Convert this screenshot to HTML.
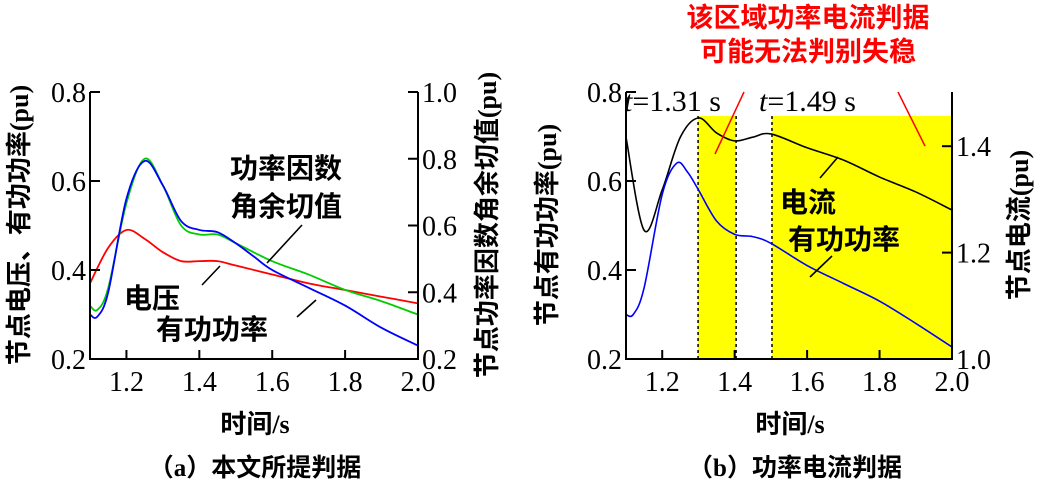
<!DOCTYPE html>
<html><head><meta charset="utf-8"><style>
body{margin:0;background:#fff}
svg text{font-family:"Liberation Serif","Noto Sans CJK SC",serif;fill:#000}
</style></head><body>
<svg id="svg" width="1043" height="486" viewBox="0 0 1043 486" xmlns="http://www.w3.org/2000/svg"></svg>
<script>
// Panel (a) data
const timeA = [1.1,1.12,1.15,1.2,1.25,1.3,1.35,1.4,1.45,1.5,1.55,1.6,1.7,1.8,1.9,2.0];
const powerA = [0.30,0.295,0.35,0.56,0.645,0.59,0.51,0.49,0.485,0.46,0.43,0.40,0.36,0.32,0.27,0.23];
const timeV = [1.1,1.15,1.2,1.25,1.3,1.35,1.4,1.45,1.5,1.6,1.7,1.8,1.9,2.0];
const voltageA = [0.37,0.45,0.49,0.47,0.44,0.42,0.42,0.42,0.41,0.39,0.37,0.355,0.34,0.325];
const timeG = [1.1,1.12,1.15,1.2,1.25,1.3,1.35,1.4,1.45,1.5,1.6,1.7,1.8,1.9,2.0];
const cotA = [0.36,0.347,0.413,0.667,0.80,0.72,0.60,0.573,0.573,0.547,0.493,0.453,0.407,0.373,0.333];
// Panel (b) data
const timeB = [1.1,1.12,1.15,1.2,1.24,1.27,1.3,1.35,1.4,1.45,1.5,1.6,1.7,1.8,1.9,2.0];
const powerB = [0.30,0.30,0.36,0.57,0.64,0.62,0.58,0.51,0.48,0.475,0.46,0.41,0.37,0.33,0.28,0.227];
const timeI = [1.1,1.15,1.2,1.25,1.3,1.35,1.4,1.45,1.5,1.6,1.7,1.8,1.9,2.0];
const currentB = [1.417,1.242,1.318,1.417,1.453,1.425,1.41,1.417,1.423,1.397,1.374,1.342,1.314,1.28];
const xTicks = ["1.2","1.4","1.6","1.8","2.0"];
const xTickVals = [1.2,1.4,1.6,1.8,2.0];
const yLeftTicks = [0.2,0.4,0.6,0.8];
const yRightATicks = [0.2,0.4,0.6,0.8,1.0];
const yRightBTicks = [1.0,1.2,1.4];
const bands = [[1.299,1.404],[1.503,2.0]];

const svg=document.getElementById('svg');
const NS='http://www.w3.org/2000/svg';
function mk(tag,attrs,parent){const e=document.createElementNS(NS,tag);for(const k in attrs)e.setAttribute(k,attrs[k]);(parent||svg).appendChild(e);return e;}
function lin(d0,d1,r0,r1){return v=>r0+(v-d0)/(d1-d0)*(r1-r0);}
function smooth(xs,ys,fx,fy){const p=xs.map((x,i)=>[fx(x),fy(ys[i])]);let d='M'+p[0][0]+','+p[0][1];
 for(let i=0;i<p.length-1;i++){const p0=p[i-1]||p[i],p1=p[i],p2=p[i+1],p3=p[i+2]||p2;
 d+=` C${p1[0]+(p2[0]-p0[0])/6},${p1[1]+(p2[1]-p0[1])/6} ${p2[0]-(p3[0]-p1[0])/6},${p2[1]-(p3[1]-p1[1])/6} ${p2[0]},${p2[1]}`;}return d;}

// ---- Panel A ----
const xA=lin(1.1,2.0,90,418), yA=lin(0.2,0.8,359,92), yA2=lin(0.2,1.0,359,92);
const gA=mk('g',{});


const pr=mk('path',{d:smooth(timeV,voltageA,xA,yA),fill:'none',stroke:'#f00','stroke-width':1.8},gA);

const pg=mk('path',{d:smooth(timeG,cotA,xA,yA2),fill:'none',stroke:'#0c0','stroke-width':1.8},gA);

const pb=mk('path',{d:smooth(timeA,powerA,xA,yA),fill:'none',stroke:'#00f','stroke-width':1.8},gA);


// ---- Panel B ----
const xB=lin(1.1,2.0,626,952), yB=lin(0.2,0.8,359,92), yB2=lin(1.0,1.5,359,93);
const gB=mk('g',{});


bands.forEach(b=>{const r=mk('rect',{x:xB(b[0]),y:116,width:xB(b[1])-xB(b[0]),height:359-116,fill:'#ff0'},gB);
 });
[bands[0][0],bands[0][1],bands[1][0]].forEach(t=>{const l=mk('line',{x1:xB(t),x2:xB(t),y1:116,y2:359,stroke:'#000','stroke-width':1.5,'stroke-dasharray':'3,3'},gB);
 });
const pk=mk('path',{d:smooth(timeI,currentB,xB,yB2),fill:'none',stroke:'#000','stroke-width':1.6},gB);

const pb2=mk('path',{d:smooth(timeB,powerB,xB,yB),fill:'none',stroke:'#00f','stroke-width':1.6},gB);


// ---- Axes ----
function axes(x0,x1,xs,yL,yLt,yR,yRt,g){
 mk('path',{d:`M${x0},92 V359 H${x1} V92`,fill:'none',stroke:'#000','stroke-width':2},g);
 xTickVals.forEach((v,i)=>{const x=xs(v);mk('line',{x1:x,x2:x,y1:359,y2:350,stroke:'#000','stroke-width':2},g);
  const t=mk('text',{x:x,y:391,'font-size':28,'text-anchor':'middle'},g);t.textContent=xTicks[i];
  });
 yLt.forEach(v=>{const y=yL(v);mk('line',{x1:x0,x2:x0+10,y1:y,y2:y,stroke:'#000','stroke-width':2},g);
  const t=mk('text',{x:x0-4,y:y+10,'font-size':28,'text-anchor':'end'},g);t.textContent=v.toFixed(1);
  });
 yRt.forEach(v=>{const y=yR(v);mk('line',{x1:x1,x2:x1-10,y1:y,y2:y,stroke:'#000','stroke-width':2},g);
  const t=mk('text',{x:x1+4,y:y+10,'font-size':28},g);t.textContent=v.toFixed(1);
  });
}
axes(90,418,xA,yA,yLeftTicks,yA2,yRightATicks,gA);
axes(626,952,xB,yB,yLeftTicks,yB2,yRightBTicks,gB);
</script>
<svg width="1043" height="486" style="position:absolute;left:0;top:0">
<g font-size="26" font-weight="bold" font-family="Liberation Serif,Noto Sans CJK SC,sans-serif">
<text x="22" y="225" transform="rotate(-90 22 225)" text-anchor="middle" dominant-baseline="middle">节点电压、有功功率(pu)</text>
<text x="490" y="225" transform="rotate(-90 490 225)" text-anchor="middle" dominant-baseline="middle">节点功率因数角余切值(pu)</text>
<text x="550" y="225" transform="rotate(-90 550 225)" text-anchor="middle" dominant-baseline="middle">节点有功功率(pu)</text>
<text x="1022" y="225" transform="rotate(-90 1022 225)" text-anchor="middle" dominant-baseline="middle">节点电流(pu)</text>
<text x="255" y="433" text-anchor="middle">时间/s</text>
<text x="790" y="433" text-anchor="middle">时间/s</text>
<text x="255" y="476" text-anchor="middle" font-size="25">（a）本文所提判据</text>
<text x="795" y="476" text-anchor="middle" font-size="25">（b）功率电流判据</text>
<text x="230" y="178" font-size="28">功率因数</text>
<text x="230" y="216" font-size="28">角余切值</text>
<text x="124" y="308" font-size="28">电压</text>
<text x="156" y="339" font-size="28">有功功率</text>
<text x="780" y="212" font-size="28">电流</text>
<text x="788" y="249" font-size="28">有功功率</text>
<text x="808" y="27" font-size="27" text-anchor="middle" style="fill:#f00">该区域功率电流判据</text>
<text x="808" y="61" font-size="27" text-anchor="middle" style="fill:#f00">可能无法判别失稳</text>
</g>
<g font-family="Liberation Serif,serif" font-size="30">
<text x="624" y="111"><tspan font-style="italic">t</tspan>=1.31 s</text>
<text x="759" y="111"><tspan font-style="italic">t</tspan>=1.49 s</text>
</g>
<g stroke="#000" stroke-width="1.6">
<line x1="267" y1="263" x2="302" y2="225"/><line x1="202" y1="285" x2="220" y2="266"/><line x1="297" y1="317" x2="316" y2="300"/>
<line x1="820" y1="178" x2="838" y2="157"/><line x1="810" y1="277" x2="832" y2="256"/>
</g>
<g stroke="#f00" stroke-width="1.5"><line x1="715" y1="154" x2="744" y2="92"/><line x1="898" y1="92" x2="925" y2="146"/></g>
</svg>
</body></html>
